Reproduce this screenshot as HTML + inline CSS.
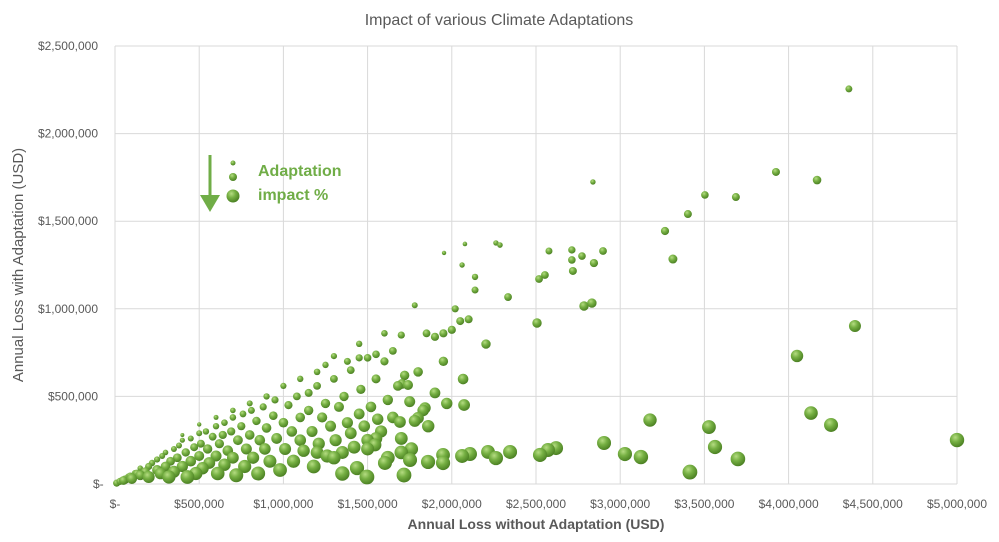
<!DOCTYPE html>
<html><head><meta charset="utf-8">
<style>
body{margin:0;background:#fff;font-family:"Liberation Sans",sans-serif;}
svg{display:block}
</style></head>
<body>
<svg id="chart" width="999" height="542" viewBox="0 0 999 542" xmlns="http://www.w3.org/2000/svg">
<defs>
<radialGradient id="bub" cx="0.38" cy="0.32" r="0.7">
<stop offset="0" stop-color="#b5dc82"/>
<stop offset="0.45" stop-color="#76b043"/>
<stop offset="1" stop-color="#4a7f22"/>
</radialGradient>
</defs>
<text x="499" y="25" text-anchor="middle" font-size="16" fill="#595959">Impact of various Climate Adaptations</text>
<g id="grid"></g>
<g id="ticks" font-size="12" fill="#595959"></g>
<g id="bubbles"></g>
<text x="536" y="529" text-anchor="middle" font-size="14" font-weight="bold" fill="#595959">Annual Loss without Adaptation (USD)</text>
<text transform="translate(23,265) rotate(-90)" text-anchor="middle" font-size="15" fill="#595959">Annual Loss with Adaptation (USD)</text>
<g>
<line x1="210" y1="155" x2="210" y2="198" stroke="#70ad47" stroke-width="3"/>
<polygon points="200,195 220,195 210,212" fill="#70ad47"/>
<circle cx="233" cy="163" r="2.5" fill="url(#bub)"/>
<circle cx="233" cy="177" r="4" fill="url(#bub)"/>
<circle cx="233" cy="196" r="6.5" fill="url(#bub)"/>
<text x="258" y="176" font-size="16" font-weight="bold" fill="#70ad47">Adaptation</text>
<text x="258" y="200" font-size="16" font-weight="bold" fill="#70ad47">impact %</text>
</g>
</svg>
<script>
const xTicks=[0,500000,1000000,1500000,2000000,2500000,3000000,3500000,4000000,4500000,5000000];
const yTicks=[0,500000,1000000,1500000,2000000,2500000];
// values in thousands USD
const lossWithout=[4358,4169,3925,3687,3503,3402,3266,3313,2838,2898,2844,2832,2785,2773,2713,2713,2719,2577,2553,2518,2506,2334,2286,2262,2138,2138,2078,2061,2203,1954,
4394,4050,4133,4252,3699,3563,3527,3414,3177,3123,3028,2904,5000,2619,2571,2524,2346,2262,2215,2108,2061,1948,1948,2067,2073,1859,1752,1716,1603,1496,1437,1544,1692,1799,1841,1704,1740,
50,80,100,120,150,150,180,200,200,220,250,250,270,280,300,300,320,330,350,350,370,380,400,400,420,430,450,450,470,480,500,500,510,520,540,550,560,580,600,600,610,620,640,650,650,670,690,700,700,720,730,750,760,770,780,800,810,820,840,850,860,880,890,900,920,940,950,960,980,1000,1010,1030,1050,1060,1080,1100,1100,1120,1150,1150,1170,1180,1200,1210,1230,1250,1260,1280,1300,1310,1330,1350,1360,1380,1400,1400,1420,1450,1460,1480,1500,1500,1520,1550,1560,1580,1600,1620,1650,1680,1700,1720,1750,1780,1800,1830,1860,1900,1950,1970,2000,2020,1780,1850,1900,1950,2050,2100,1700,1650,1600,1550,1450,1450,1380,1300,1250,1200,1100,1000,900,800,700,600,500,400,
1200,1300,1350,1500,1550,1620,1700,1760,10,30,60,90,130];
const lossWith=[2255,1735,1781,1638,1650,1541,1444,1284,1724,1330,1261,1033,1016,1301,1336,1279,1216,1330,1193,1170,919,1067,1364,1376,1182,1107,1370,1250,799,1319,
902,731,405,337,143,211,325,68,365,154,171,234,251,205,194,166,183,148,183,171,160,120,166,599,451,126,137,51,120,40,91,223,354,377,434,571,565,
20,40,30,60,50,90,70,100,40,120,80,140,60,160,100,180,40,130,200,70,150,220,100,250,180,40,260,130,210,60,290,160,230,90,300,200,120,270,330,160,60,230,280,350,110,190,300,380,150,50,250,330,400,100,200,280,420,150,360,60,250,440,200,320,130,390,480,260,80,350,200,450,300,130,500,380,250,190,420,520,300,100,560,230,380,460,160,330,600,250,440,180,500,350,650,290,210,400,540,330,250,720,440,600,370,300,700,480,380,560,260,620,470,360,640,420,330,520,700,460,880,1000,1020,860,840,860,930,940,850,760,860,740,800,720,700,730,680,640,600,560,500,460,420,380,340,280,
180,150,60,200,260,150,180,200,5,15,25,45,60];
const NS="http://www.w3.org/2000/svg";
const L=115,R=957,T=46,B=484;
const xs=v=>L+v/5000000*(R-L);
const ys=v=>B-v/2500000*(B-T);
const grid=document.getElementById('grid'),ticks=document.getElementById('ticks'),bub=document.getElementById('bubbles');
const fmt=v=>v===0?'$-':'$'+v.toLocaleString('en-US');
xTicks.forEach(v=>{
 const l=document.createElementNS(NS,'line');
 
 
 l.setAttribute('x1',xs(v));l.setAttribute('x2',xs(v));l.setAttribute('y1',T);l.setAttribute('y2',B);
 l.setAttribute('stroke','#d9d9d9');grid.appendChild(l);
 const t=document.createElementNS(NS,'text');
 
 
 t.setAttribute('x',xs(v));t.setAttribute('y',508);t.setAttribute('text-anchor','middle');
 t.textContent=fmt(v);ticks.appendChild(t);
});
yTicks.forEach(v=>{
 const l=document.createElementNS(NS,'line');
 
 
 l.setAttribute('x1',L);l.setAttribute('x2',R);l.setAttribute('y1',ys(v));l.setAttribute('y2',ys(v));
 l.setAttribute('stroke','#d9d9d9');grid.appendChild(l);
 const t=document.createElementNS(NS,'text');
 
 
 t.setAttribute('x',v===0?93:98);t.setAttribute('y',ys(v)+4);t.setAttribute('text-anchor',v===0?'start':'end');
 t.textContent=fmt(v);ticks.appendChild(t);
});
const order=lossWithout.map((_,i)=>i).sort((a,b)=>(lossWith[b]/lossWithout[b])-(lossWith[a]/lossWithout[a]));
order.forEach(i=>{
 const x=lossWithout[i]*1000,y=lossWith[i]*1000;
 const imp=1-y/x;
 const r=Math.max(2,2+8*(imp-0.3));
 const c=document.createElementNS(NS,'circle');
 
 
 c.setAttribute('cx',xs(x));c.setAttribute('cy',ys(y));c.setAttribute('r',r.toFixed(1));
 c.setAttribute('fill','url(#bub)');bub.appendChild(c);
});
</script>
</body></html>
